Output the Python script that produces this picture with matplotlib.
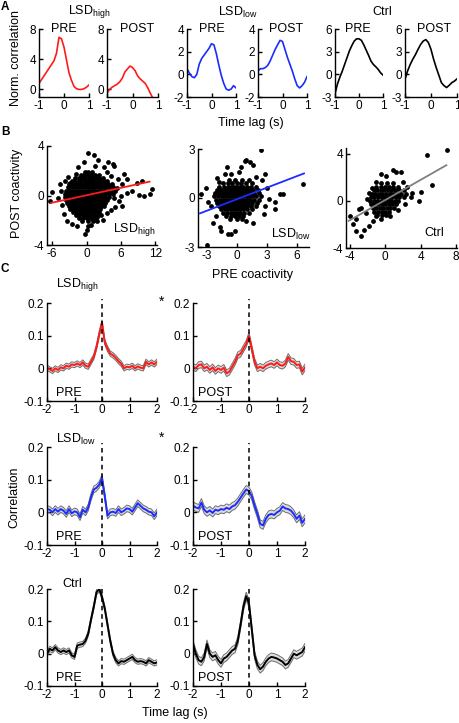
import numpy as np
import matplotlib
matplotlib.use('Agg')
import matplotlib.pyplot as plt

plt.rcParams['font.family'] = ['Liberation Sans', 'DejaVu Sans']
plt.rcParams['mathtext.fontset'] = 'custom'
plt.rcParams['mathtext.rm'] = 'Liberation Sans'
plt.rcParams['axes.unicode_minus'] = False

RED = '#ff1a1a'
BLUE = '#1a2cff'
GREY = '#808080'

# ---------------- panel A: normalized cross-correlation (-1..1 s) ----------------
a_lag = np.round(np.arange(-1.0, 1.01, 0.1), 1)
a_high_pre = [0.8, 1.3, 1.8, 2.3, 2.8, 3.3, 3.8, 4.8, 6.9, 6.7, 5.6, 3.9, 2.2, 1.2, 0.4, 0.1, 0.0, 0.0, 0.1, 0.3, 0.6]
a_high_post = [-0.5, 0.0, 0.3, 0.5, 0.7, 1.0, 1.5, 2.3, 2.7, 3.1, 2.9, 2.5, 1.8, 1.4, 1.1, 0.8, 0.2, -0.5, -1.2, -1.5, -1.5]
a_low_pre = [0.5, 0.1, -0.2, -0.3, 0.0, 0.9, 1.4, 1.7, 2.0, 2.3, 2.7, 2.6, 1.8, 0.8, -0.1, -0.8, -1.3, -1.4, -1.3, -1.0, -1.2]
a_low_post = [0.3, 0.5, 0.5, 0.6, 0.8, 1.2, 1.7, 2.2, 2.6, 3.0, 2.9, 2.2, 1.5, 0.9, 0.3, -0.4, -1.0, -1.2, -1.0, -0.7, -0.2]
a_ctrl_pre = [-2.6, -1.3, -0.4, 0.4, 1.3, 2.2, 3.1, 3.8, 4.4, 4.7, 4.7, 4.5, 3.9, 3.2, 2.5, 1.75, 1.3, 1.0, 0.65, 0.2, -0.1]
a_ctrl_post = [-0.65, 0.45, 1.3, 2.0, 2.6, 3.3, 3.95, 4.4, 4.6, 4.2, 3.3, 2.0, 0.9, -0.1, -1.1, -1.5, -1.75, -1.45, -1.1, -0.9, -0.6]

# ---------------- panel B: PRE vs POST coactivity ----------------
high_core = [
    (1.9, [-0.3, 0.3, 0.9]),
    (1.65, [-1.0, -0.4, 0.2, 0.8, 1.4, 2.1]),
    (1.4, [-2.0, -1.4, -0.8, -0.2, 0.4, 1.0, 1.6, 2.2, 2.9]),
    (1.15, [-2.6, -2.0, -1.4, -0.9, -0.3, 0.2, 0.7, 1.2, 1.8, 2.4, 3.0, 3.6]),
    (0.9, [-3.0, -2.5, -2.0, -1.5, -1.0, -0.5, 0.0, 0.5, 1.0, 1.5, 2.0, 2.6, 3.2, 3.8, 4.4]),
    (0.65, [-3.3, -2.8, -2.3, -1.8, -1.3, -0.8, -0.3, 0.2, 0.7, 1.2, 1.7, 2.2, 2.7, 3.3, 3.9, 4.6]),
    (0.4, [-3.5, -3.0, -2.5, -2.0, -1.5, -1.0, -0.5, 0.0, 0.5, 1.0, 1.5, 2.0, 2.5, 3.0, 3.6, 4.2, 4.9]),
    (0.15, [-3.7, -3.2, -2.7, -2.2, -1.7, -1.2, -0.7, -0.2, 0.3, 0.8, 1.3, 1.8, 2.3, 2.8, 3.3, 3.9, 4.6]),
    (-0.1, [-3.8, -3.3, -2.8, -2.3, -1.8, -1.3, -0.8, -0.3, 0.2, 0.7, 1.2, 1.7, 2.2, 2.7, 3.3, 4.0]),
    (-0.35, [-3.6, -3.1, -2.6, -2.1, -1.6, -1.1, -0.6, -0.1, 0.4, 0.9, 1.4, 1.9, 2.4, 3.0, 3.6]),
    (-0.6, [-3.4, -2.9, -2.4, -1.9, -1.4, -0.9, -0.4, 0.1, 0.6, 1.1, 1.6, 2.1, 2.7, 3.3]),
    (-0.85, [-3.1, -2.6, -2.1, -1.6, -1.1, -0.6, -0.1, 0.4, 0.9, 1.4, 1.9, 2.5, 3.1]),
    (-1.1, [-2.8, -2.3, -1.8, -1.3, -0.8, -0.3, 0.2, 0.7, 1.2, 1.7, 2.3]),
    (-1.35, [-2.4, -1.9, -1.4, -0.9, -0.4, 0.1, 0.6, 1.1, 1.6, 2.2]),
    (-1.6, [-1.9, -1.3, -0.7, -0.1, 0.5, 1.1, 1.8]),
    (-1.85, [-1.3, -0.6, 0.1, 0.8, 1.5]),
    (-2.1, [-0.8, 0.2, 1.1]),
]
high_out = [(0.23, 3.4), (1.3, 3.3), (2.0, 2.9), (-0.5, 2.7), (3.7, 2.7), (4.6, 2.55), (4.8, 2.35),
            (3.0, 2.3), (1.5, 2.4), (-1.5, 2.3), (6.5, 1.7), (7.1, 1.3), (5.5, 1.3), (8.8, 1.0),
            (9.7, 1.15), (6.2, 0.9), (11.4, 0.5), (11.0, 0.1), (10.1, -0.05), (9.2, 0.05), (8.0, 0.4),
            (7.0, 0.2), (6.0, 0.0), (5.6, -0.45), (4.8, -0.2), (6.2, -0.86), (5.0, -0.9), (4.2, -1.2),
            (-6.0, 0.27), (-6.3, -0.45), (-5.0, -0.2), (-4.5, 0.4), (-4.3, -0.8), (-4.6, 0.9),
            (-3.4, -2.1), (-2.5, -2.3), (-0.35, -3.15), (0.23, -2.5), (0.8, -2.4), (1.8, -2.1),
            (2.6, -1.6), (3.5, -1.4), (-2.8, 1.0), (-1.9, 1.7), (-3.2, 1.5), (5.3, 0.6), (4.2, 1.6),
            (3.5, 1.9), (-4.0, -1.5), (-3.8, 1.2), (2.8, -2.0), (-1.6, -2.5), (0.1, -2.75), (1.9, -1.7)]
high_fit = [0.10, 0.02]
high_fit_x = [-6.2, 11.0]

low_core = [
    (1.1, [-0.8, -0.2, 0.5, 1.2]),
    (0.9, [-1.4, -0.9, -0.5, 0.0, 0.4, 0.9, 1.5]),
    (0.7, [-1.8, -1.3, -0.9, -0.6, -0.3, 0.0, 0.3, 0.6, 1.0, 1.4, 1.9]),
    (0.5, [-2.0, -1.6, -1.2, -0.9, -0.6, -0.3, 0.0, 0.3, 0.6, 0.9, 1.2, 1.6, 2.1]),
    (0.3, [-2.2, -1.8, -1.4, -1.1, -0.8, -0.5, -0.2, 0.1, 0.4, 0.7, 1.0, 1.3, 1.7, 2.2]),
    (0.1, [-2.3, -1.9, -1.5, -1.2, -0.9, -0.6, -0.3, 0.0, 0.3, 0.6, 0.9, 1.2, 1.5, 1.9, 2.4]),
    (-0.1, [-2.1, -1.7, -1.4, -1.1, -0.8, -0.5, -0.2, 0.1, 0.4, 0.7, 1.0, 1.3, 1.7, 2.2]),
    (-0.3, [-2.0, -1.6, -1.3, -1.0, -0.7, -0.4, -0.1, 0.2, 0.5, 0.8, 1.1, 1.5, 2.0]),
    (-0.5, [-1.8, -1.4, -1.1, -0.8, -0.5, -0.2, 0.1, 0.4, 0.7, 1.0, 1.4, 1.9]),
    (-0.7, [-1.6, -1.2, -0.9, -0.6, -0.3, 0.0, 0.3, 0.6, 1.0, 1.5]),
    (-0.9, [-1.4, -1.0, -0.6, -0.3, 0.0, 0.3, 0.7, 1.2]),
    (-1.1, [-1.1, -0.6, -0.2, 0.2, 0.6]),
    (-1.3, [-0.7, 0.0, 0.5]),
]
low_out = [(2.37, 2.96), (0.93, 2.3), (1.27, 2.2), (1.6, 2.05), (0.84, 2.29), (0.2, 1.58), (-0.57, 1.48),
           (2.77, 1.48), (1.93, 1.27), (2.5, 1.08), (-1.2, 1.45), (-2.0, 1.2), (-3.57, 0.25), (-2.9, -0.27),
           (-2.6, -0.5), (-2.4, -1.5), (-1.73, -1.8), (-1.57, -2.0), (-0.9, -2.18), (-0.23, -2.05),
           (-0.6, -2.2), (-2.97, -2.87), (-2.1, -1.1), (-1.8, 0.95), (3.77, -0.68), (3.77, -0.27),
           (4.6, 0.25), (4.34, 0.25), (3.17, -0.06), (2.84, -0.48), (6.57, 0.87), (3.0, 0.6), (2.7, -1.0),
           (1.6, -1.5), (0.9, -1.4), (-3.1, 0.6), (-1.0, 1.9), (0.4, 1.9)]
low_fit = [0.235, -0.07]
low_fit_x = [-3.7, 6.7]

ctrl_core = [
    (1.5, [-0.5, 0.2, 0.9]),
    (1.2, [-1.0, -0.5, 0.0, 0.4, 0.9, 1.4]),
    (0.9, [-1.3, -0.9, -0.5, -0.1, 0.3, 0.7, 1.1, 1.6, 2.1]),
    (0.6, [-1.5, -1.1, -0.7, -0.3, 0.1, 0.5, 0.9, 1.3, 1.8, 2.4]),
    (0.3, [-1.6, -1.2, -0.8, -0.4, 0.0, 0.4, 0.8, 1.2, 1.6, 2.1]),
    (0.0, [-1.7, -1.3, -0.9, -0.5, -0.1, 0.3, 0.7, 1.1, 1.5]),
    (-0.3, [-1.6, -1.2, -0.8, -0.4, 0.0, 0.4, 0.8, 1.2]),
    (-0.6, [-1.4, -1.0, -0.6, -0.2, 0.2, 0.6, 1.0]),
    (-0.9, [-1.2, -0.8, -0.4, 0.0, 0.4]),
    (-1.2, [-0.9, -0.4, 0.1]),
]
ctrl_out = [(6.93, 4.34), (4.68, 3.9), (5.28, 1.34), (4.04, 0.77), (3.86, 0.0), (3.03, 0.71), (1.98, 1.63),
            (1.8, 2.43), (0.86, 2.66), (1.24, 2.43), (-0.45, 2.29), (0.11, 2.14), (-1.0, 1.57), (-1.76, 0.71),
            (-2.7, -0.57), (-2.88, -0.71), (-4.0, -1.29), (-3.63, -2.0), (-3.33, -2.57), (-2.7, -3.0),
            (-2.32, -2.43), (-1.76, -2.14), (-1.39, -1.71), (-0.45, -1.57), (-1.0, -1.29), (-3.33, -1.57),
            (2.5, 1.2), (2.9, 0.3), (-2.2, -1.0), (-2.0, 0.2), (1.5, -0.8), (2.2, -0.3), (-1.5, 1.1), (0.5, -1.3)]
ctrl_fit = [0.43, 0.07]
ctrl_fit_x = [-4.1, 6.9]

# ---------------- panel C: mean correlation +- sem (-2..2 s) ----------------
c_lag = np.round(np.arange(-2.0, 2.01, 0.1), 1)
c_high_pre = [0.002, -0.003, -0.008, 0.0, -0.005, 0.003, 0.0, 0.008, 0.005, 0.012, 0.01,
              0.015, 0.01, 0.018, 0.008, 0.005, 0.02, 0.035, 0.065, 0.105, 0.14,
              0.08, 0.06, 0.045, 0.04, 0.032, 0.022, 0.014, 0.0, 0.005, 0.003,
              0.008, 0.0, 0.006, 0.002, 0.0, 0.02, 0.012, 0.018, 0.012, 0.02]
c_high_post = [0.005, 0.0, 0.01, 0.012, 0.0, 0.005, -0.005, 0.003, -0.008, 0.0, -0.005,
               0.002, -0.015, -0.01, 0.005, 0.02, 0.04, 0.045, 0.06, 0.075, 0.1,
               0.06, 0.02, 0.0, 0.005, 0.0, 0.008, 0.012, 0.015, 0.01, 0.018,
               0.01, 0.008, 0.015, 0.035, 0.022, 0.02, 0.01, 0.012, -0.01, 0.003]
c_low_pre = [0.01, 0.008, 0.0, 0.01, 0.002, 0.01, 0.005, -0.005, 0.01, -0.003, 0.003,
             0.0, -0.015, 0.008, 0.0, 0.015, 0.047, 0.07, 0.075, 0.085, 0.105,
             0.05, -0.01, 0.0, 0.002, -0.002, 0.01, 0.0, 0.005, 0.012, 0.01,
             0.002, 0.015, 0.028, 0.02, 0.012, 0.008, 0.002, 0.0, -0.012, 0.0]
c_low_post = [0.02, 0.015, 0.012, 0.03, 0.008, 0.0, 0.006, -0.002, 0.008, 0.005, 0.01,
              0.008, 0.014, 0.01, 0.018, 0.022, 0.032, 0.045, 0.058, 0.07, 0.065,
              0.05, 0.02, -0.005, -0.035, -0.04, -0.02, -0.008, -0.005, -0.008, 0.0,
              0.005, 0.018, 0.012, 0.01, 0.005, -0.005, -0.02, -0.01, -0.032, -0.02]
c_ctrl_pre = [0.0, 0.015, 0.01, 0.02, 0.01, 0.005, 0.01, 0.005, 0.01, -0.005, -0.01,
              0.025, 0.028, 0.03, 0.04, 0.062, 0.105, 0.145, 0.19, 0.2, 0.175,
              0.14, 0.09, 0.04, 0.0, -0.02, -0.03, -0.023, -0.025, -0.02, -0.015,
              -0.01, -0.02, -0.025, -0.023, -0.025, -0.03, -0.02, -0.025, -0.03, -0.027]
c_ctrl_post = [0.03, 0.0, -0.02, -0.025, -0.01, 0.03, 0.0, -0.01, -0.005, -0.02, -0.03,
               -0.015, -0.01, 0.0, 0.01, 0.015, 0.04, 0.09, 0.145, 0.178, 0.155,
               0.075, -0.005, -0.035, -0.048, -0.04, -0.025, -0.015, -0.01, -0.012, -0.015,
               -0.02, -0.025, -0.035, -0.03, -0.015, 0.0, -0.005, 0.0, 0.005, 0.02]
c_sem = [0.008, 0.01, 0.01, 0.012, 0.008, 0.012]

W, H = 459, 723
fig = plt.figure(figsize=(W / 100, H / 100), dpi=100)


def box(x0, y0, x1, y1):
    return fig.add_axes([x0 / W, 1 - y1 / H, (x1 - x0) / W, (y1 - y0) / H])


def style(ax):
    for s in ['top', 'right']:
        ax.spines[s].set_visible(False)
    for s in ['left', 'bottom']:
        ax.spines[s].set_linewidth(1.0)
    ax.tick_params(direction='in', length=3, width=1.0, labelsize=8.5, pad=2)


def ftext(x, y, s, size=9, **kw):
    fig.text(x / W, 1 - y / H, s, ha='center', va='center', fontsize=size, **kw)


def lsd(sub):
    return 'LSD$_{\\mathrm{' + sub + '}}$'


# ---- A ----
a_boxes = [(39, 89), (107, 158), (187, 236), (258, 307), (335, 383), (405, 457)]
a_curves = [a_high_pre, a_high_post, a_low_pre, a_low_post, a_ctrl_pre, a_ctrl_post]
a_colors = [RED, RED, BLUE, BLUE, 'k', 'k']
a_ylims = [(-1, 8), (-1, 8), (-2, 4), (-2, 4), (-3, 6), (-3, 6)]
a_yticks = [[0, 4, 8], [0, 4, 8], [-2, 0, 2, 4], [-2, 0, 2, 4], [-3, 0, 3, 6], [-3, 0, 3, 6]]
a_names = ['PRE', 'POST'] * 3
a_namex = [0.5, 0.58, 0.5, 0.58, 0.48, 0.55]
for i in range(6):
    x0, x1 = a_boxes[i]
    ax = box(x0, 29, x1, 97)
    ax.plot(a_lag, a_curves[i], color=a_colors[i], lw=1.2)
    ax.set_xlim(-1, 1)
    ax.set_ylim(*a_ylims[i])
    ax.set_xticks([-1, 0, 1])
    ax.set_yticks(a_yticks[i])
    style(ax)
    ax.text(a_namex[i], 1.0, a_names[i], transform=ax.transAxes, ha='center', va='center', fontsize=9)
ftext(89, 12, lsd('high'))
ftext(238, 12, lsd('low'))
ftext(382, 12, 'Ctrl')
ftext(16, 58, 'Norm. correlation', rotation=90)
ftext(251, 123, 'Time lag (s)')
ftext(5, 7, 'A', size=8.5, fontweight='bold')

# ---- B ----
b_sets = [
    (high_core, high_out, high_fit, high_fit_x, RED, (47, 146, 157, 245), (-6.9, 12.3), (-4, 4),
     [-6, 0, 6, 12], [-4, 0, 4], lsd('high'), (134, 230)),
    (low_core, low_out, low_fit, low_fit_x, BLUE, (198, 149, 309, 247), (-3.9, 7.2), (-3, 3),
     [-3, 0, 3, 6], [-3, 0, 3], lsd('low'), (291, 234)),
    (ctrl_core, ctrl_out, ctrl_fit, ctrl_fit_x, GREY, (346, 148, 457, 248), (-4.4, 8.1), (-4, 4.5),
     [-4, 0, 4, 8], [-4, 0, 4], 'Ctrl', (434, 233)),
]
for core, out, fit, fit_x, col, bx, xl, yl, xt, yt, name, npos in b_sets:
    ax = box(*bx)
    px = [x for y, xs in core for x in xs] + [p[0] for p in out]
    py = [y for y, xs in core for x in xs] + [p[1] for p in out]
    ax.scatter(px, py, s=12, c='k', lw=0, zorder=2)
    fx = np.array(fit_x)
    ax.plot(fx, fit[0] * fx + fit[1], color=col, lw=1.3, zorder=3)
    ax.set_xlim(*xl)
    ax.set_ylim(*yl)
    ax.set_xticks(xt)
    ax.set_yticks(yt)
    style(ax)
    ftext(npos[0], npos[1], name)
ftext(17, 193, 'POST coactivity', rotation=90)
ftext(253, 275, 'PRE coactivity')
ftext(5, 132, 'B', size=8.5, fontweight='bold')

# ---- C ----
c_cols_x = [(47, 157), (193, 305)]
c_rows_y = [(303, 401), (447, 545), (589, 686)]
c_series = [c_high_pre, c_high_post, c_low_pre, c_low_post, c_ctrl_pre, c_ctrl_post]
c_colors = [RED, BLUE, 'k']
for r in range(3):
    for c in range(2):
        k = 2 * r + c
        ax = box(c_cols_x[c][0], c_rows_y[r][0], c_cols_x[c][1], c_rows_y[r][1])
        m = np.array(c_series[k])
        s = c_sem[k]
        ax.fill_between(c_lag, m - s, m + s, color='#dcdcdc', lw=0)
        ax.plot(c_lag, m - s, color='#6e6e6e', lw=0.7)
        ax.plot(c_lag, m + s, color='#6e6e6e', lw=0.7)
        ax.plot(c_lag, m, color=c_colors[r], lw=1.4)
        ax.axvline(0, ymin=0, ymax=1.04, color='k', lw=1.1, ls=(0, (3, 2.5)), clip_on=False)
        ax.set_xlim(-2, 2)
        ax.set_ylim(-0.1, 0.2)
        ax.set_xticks([-2, -1, 0, 1, 2])
        ax.set_yticks([-0.1, 0, 0.1, 0.2])
        ax.set_yticklabels(['-0.1', '0', '0.1', '0.2'])
        style(ax)
        ax.text(-1.2, -0.075, ['PRE', 'POST'][c], ha='center', va='center', fontsize=9)
ftext(77, 285, lsd('high'))
ftext(162, 302, '*', size=10)
ftext(76, 439, lsd('low'))
ftext(162, 438, '*', size=10)
ftext(72, 584, 'Ctrl')
ftext(14, 497, 'Correlation', rotation=90)
ftext(175, 713, 'Time lag (s)')
ftext(5, 269, 'C', size=8.5, fontweight='bold')

fig.savefig('out.png', dpi=100)
